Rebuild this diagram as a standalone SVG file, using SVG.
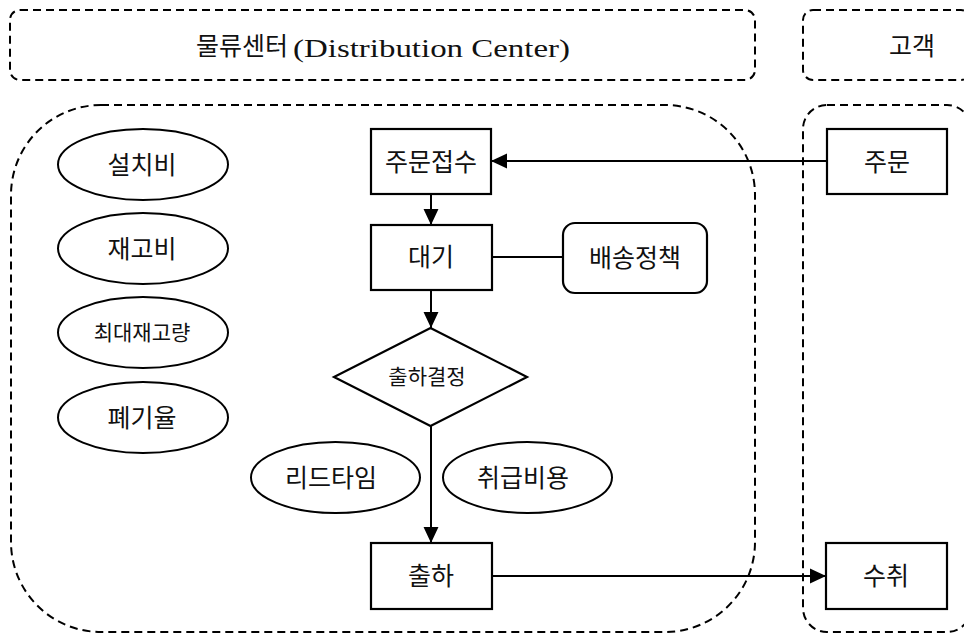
<svg xmlns="http://www.w3.org/2000/svg" width="964" height="634" viewBox="0 0 964 634">
  <style>
    .region { fill: none; stroke: #000; stroke-width: 2; stroke-dasharray: 8 5; }
    .box { fill: #fff; stroke: #000; stroke-width: 2.2; }
    .ell { fill: #fff; stroke: #000; stroke-width: 2; }
    .conn { fill: none; stroke: #000; stroke-width: 2; }
    .lbl { font-family: "Liberation Serif", "Noto Sans CJK KR", serif; font-size: 25px; fill: #111; text-anchor: middle; }
    .sm { font-size: 21px; }
    .hdr { font-family: "Liberation Serif", "Noto Sans CJK KR", serif; font-size: 25px; fill: #111; }
  </style>
  <defs>
    <marker id="arrow" markerUnits="userSpaceOnUse" markerWidth="16" markerHeight="16" viewBox="0 0 15 14" refX="15" refY="7" orient="auto">
      <path d="M0,0 L15,7 L0,14 z" fill="#000"/>
    </marker>
  </defs>
  <rect width="964" height="634" fill="#fff"/>

  <g id="lane-headers">
    <g id="header-dc">
      <rect class="region" x="10" y="10" width="745" height="70" rx="10"/>
      <text class="hdr" x="196" y="55">물류센터</text>
      <text class="hdr" x="293" y="57" font-size="30" textLength="277" lengthAdjust="spacingAndGlyphs">(Distribution Center)</text>
    </g>
    <g id="header-customer">
      <rect class="region" x="803" y="10" width="168" height="70" rx="10"/>
      <text class="lbl" x="912" y="55">고객</text>
    </g>
  </g>

  <g id="lanes">
    <rect id="lane-dc" class="region" x="11" y="105" width="744" height="527" rx="90"/>
    <rect id="lane-customer" class="region" x="803" y="105" width="168" height="527" rx="24"/>
  </g>

  <g id="connectors">
    <line class="conn" x1="827" y1="161" x2="491" y2="161" marker-end="url(#arrow)"/>
    <line class="conn" x1="431" y1="194" x2="431" y2="225" marker-end="url(#arrow)"/>
    <line class="conn" x1="492" y1="257" x2="563" y2="257"/>
    <line class="conn" x1="431" y1="290" x2="431" y2="328" marker-end="url(#arrow)"/>
    <line class="conn" x1="431" y1="426" x2="431" y2="543" marker-end="url(#arrow)"/>
    <line class="conn" x1="492" y1="576" x2="826" y2="576" stroke-width="2.6" marker-end="url(#arrow)"/>
  </g>

  <g id="node-order-receipt">
    <rect class="box" x="371" y="129" width="120" height="65"/>
    <text class="lbl" x="431" y="170.5">주문접수</text>
  </g>
  <g id="node-wait">
    <rect class="box" x="371" y="225" width="121" height="65"/>
    <text class="lbl" x="431" y="266">대기</text>
  </g>
  <g id="node-delivery-policy">
    <rect class="box" x="563" y="223" width="144" height="70" rx="12"/>
    <text class="lbl" x="635" y="267">배송정책</text>
  </g>
  <g id="node-ship-decision">
    <polygon class="box" points="430.5,328 527,377 430.5,426 334,377"/>
    <text class="lbl sm" x="427" y="384">출하결정</text>
  </g>
  <g id="node-ship">
    <rect class="box" x="371" y="543" width="121" height="66"/>
    <text class="lbl" x="431" y="585">출하</text>
  </g>
  <g id="node-order">
    <rect class="box" x="827" y="129" width="120" height="65"/>
    <text class="lbl" x="887" y="170.5">주문</text>
  </g>
  <g id="node-receive">
    <rect class="box" x="826" y="543" width="121" height="66"/>
    <text class="lbl" x="886" y="585">수취</text>
  </g>

  <g id="node-setup-cost">
    <ellipse class="ell" cx="143" cy="164.5" rx="85" ry="35.5"/>
    <text class="lbl" x="142" y="174">설치비</text>
  </g>
  <g id="node-inventory-cost">
    <ellipse class="ell" cx="143" cy="248.5" rx="85" ry="35.5"/>
    <text class="lbl" x="142" y="258">재고비</text>
  </g>
  <g id="node-max-inventory">
    <ellipse class="ell" cx="143" cy="332.5" rx="85" ry="35.5"/>
    <text class="lbl sm" x="142" y="340">최대재고량</text>
  </g>
  <g id="node-disposal-rate">
    <ellipse class="ell" cx="143" cy="417.5" rx="85" ry="35.5"/>
    <text class="lbl" x="142" y="427">폐기율</text>
  </g>
  <g id="node-lead-time">
    <ellipse class="ell" cx="335.5" cy="477.5" rx="84.5" ry="35.5"/>
    <text class="lbl" x="331" y="487">리드타임</text>
  </g>
  <g id="node-handling-cost">
    <ellipse class="ell" cx="527.5" cy="477.5" rx="84.5" ry="35.5"/>
    <text class="lbl" x="523" y="487">취급비용</text>
  </g>
</svg>
